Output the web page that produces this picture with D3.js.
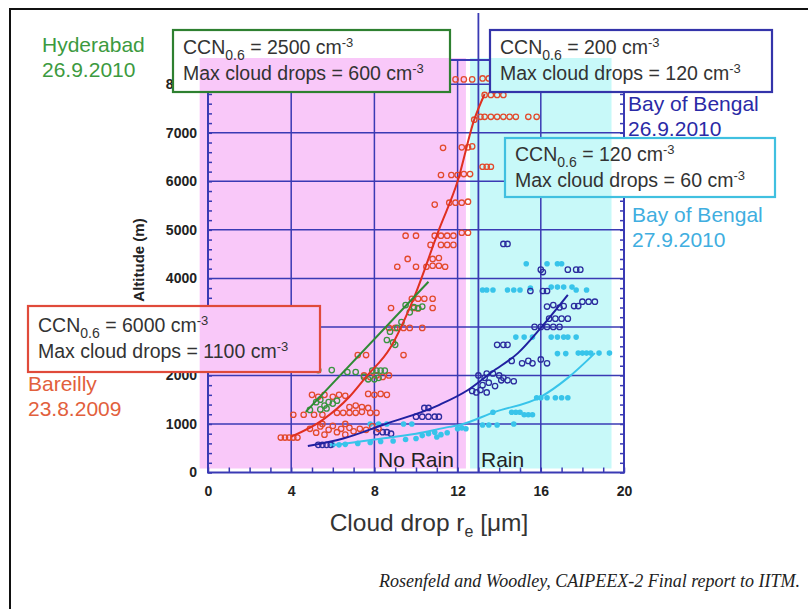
<!DOCTYPE html>
<html><head><meta charset="utf-8">
<script src="https://cdn.jsdelivr.net/npm/d3@7"></script>
<style>body{margin:0;background:#fff}svg{display:block}</style>
</head><body>
<script>
// ---------- DATA ----------
const xTicks = [0, 4, 8, 12, 16, 20];
const yTicks = [0, 1000, 2000, 3000, 4000, 5000, 6000, 7000, 8000];

// Bareilly 23.8.2009 (red open circles) [re µm, altitude m]
const bareilly = [
 [3.5,720],[3.7,720],[3.9,720],[4.1,720],[4.3,720],
 [4.1,1190],[4.6,1190],[5.1,1190],[5.5,1190],
 [4.9,900],[5.2,820],[5.4,950],[5.6,780],[5.8,880],[6.0,960],[6.2,830],[6.4,900],[6.6,780],[6.8,920],[7.0,850],[7.3,900],[7.6,880],[7.9,950],[8.2,900],[5.5,1000],[6.6,1000],
 [6.2,1230],[6.5,1230],[6.8,1230],[7.1,1230],[7.4,1250],[7.8,1230],[8.1,1230],
 [6.8,1350],[7.1,1380],[7.4,1350],[7.7,1330],
 [5.0,1600],[5.3,1560],[5.6,1600],[6.0,1560],[6.3,1600],[6.6,1580],[7.7,1620],[8.0,1600],[8.3,1620],[8.6,1600],
 [7.5,2000],[7.8,1970],[8.1,2000],[8.4,1970],[8.7,2000],
 [7.2,2420],[7.6,2420],[9.4,2420],
 [8.7,2980],[9.0,2980],[9.4,2980],[9.7,2980],[10.3,2980],
 [8.8,3390],[9.9,3390],[10.1,3380],[10.8,3390],
 [9.8,3580],[10.1,3580],[10.4,3580],[10.8,3580],
 [9.1,4240],[10.0,4240],[10.5,4240],[10.8,4260],[11.1,4260],[11.4,4240],
 [9.6,4400],[10.8,4400],[11.1,4420],
 [10.7,4690],[11.2,4690],[11.5,4690],[11.8,4690],
 [9.5,4880],[10.0,4880],[10.9,4880],[11.2,4880],[11.5,4880],[11.8,4880],
 [12.2,4940],[12.5,4940],
 [10.9,5520],[11.6,5560],[11.9,5560],[12.2,5560],[12.5,5580],
 [11.2,6130],[11.7,6130],[12.0,6130],[12.3,6150],[12.6,6150],
 [13.2,6300],[13.4,6300],[13.6,6300],
 [11.3,6690],[12.2,6700],[12.5,6700],[12.7,6720],
 [12.8,7270],[13.1,7330],[13.3,7330],[13.6,7330],[13.9,7330],[14.2,7330],[14.5,7330],[14.8,7330],[15.4,7330],[15.8,7330],
 [13.3,7780],[13.6,7780],[13.9,7780],[14.2,7780],
 [11.9,8100],[12.3,8100],[12.7,8100],[13.2,8120],[13.5,8120]
];
const bareillyFit = [[4.0,738],[5.5,1080],[6.8,1560],[7.6,1970],[8.75,2560],[9.9,3600],[11.1,5000],[12.0,6000],[12.8,7270],[13.3,7800]];

// Hyderabad 26.9.2010 (green open circles)
const hyderabad = [
 [4.9,1290],[5.2,1450],[5.4,1500],[5.6,1380],[5.8,1450],[6.0,1420],[6.2,1480],[5.4,1300],[5.7,1320],
 [5.3,2110],[5.95,2110],[6.7,2070],[7.1,2070],[7.5,1970],[7.9,2100],[8.1,2100],[8.3,2100],[8.5,2100],[7.7,1920],[8.0,1920],[8.2,1950],
 [8.6,2730],[9.0,2630],[8.9,2680],[8.75,2900],[9.1,2980],
 [9.3,3100],[9.5,3450],[9.9,3410],[10.3,3420],[9.7,3300],[10.1,3390]
];
const hyderabadFit = [[4.7,1250],[10.6,3930]];

// Bay of Bengal 26.9.2010 (dark blue open circles)
const bengal26 = [
 [5.3,570],[5.5,570],[5.7,570],[5.9,570],
 [8.1,830],[8.4,830],[8.6,830],[8.8,800],
 [10.0,1150],[10.3,1150],[10.6,1150],[10.9,1150],[11.1,1150],[10.4,1330],[10.6,1330],
 [12.7,1680],[12.9,1650],[13.1,1700],[13.4,1650],
 [13.2,1800],[13.5,1850],[13.8,1780],[14.1,1900],[14.4,1900],[14.7,1880],[13.4,2040],[13.7,2040],[14.0,2000],[14.2,1950],[13.3,1950],[13.0,2000],
 [13.9,2630],[14.2,2630],[14.4,2630],
 [14.6,2300],[15.1,2250],[15.4,2300],[15.6,2250],[16.0,2330],[16.3,2250],
 [15.7,3000],[16.0,3000],[16.3,3000],[16.6,3000],[16.9,3000],
 [16.4,3170],[16.7,3170],[17.0,3170],[17.3,3170],
 [16.3,3420],[16.6,3450],[16.9,3400],[17.1,3430],[17.6,3430],[17.8,3430],
 [18.0,3520],[18.3,3520],[18.6,3520],
 [15.5,3740],[16.1,3740],[16.3,3740],
 [16.0,4180],[16.1,4130],[17.3,4180],[17.7,4180],[17.9,4180],
 [14.2,4710],[14.4,4710]
];
const bengal26Fit = [[4.8,545],[6.5,700],[8.4,980],[11.1,1390],[12.5,1700],[13.65,2070],[14.9,2460],[16.0,2980],[17.3,3660]];

// Bay of Bengal 27.9.2010 (cyan filled dots)
const bengal27 = [
 [6.0,570],[6.3,570],[6.6,580],[7.2,600],[7.8,620],[8.3,640],[8.9,650],[9.5,680],[10.0,700],
 [7.8,1000],[8.2,1000],[8.6,1000],[9.4,1000],[9.8,1000],
 [10.3,760],[10.6,800],[10.9,830],[11.2,780],[11.5,820],[11.0,730],
 [12.0,900],[12.2,920],[12.4,900],
 [13.2,980],[13.5,980],[13.9,980],[14.7,1000],
 [13.7,1240],[14.6,1240],[14.8,1240],[15.0,1240],[15.2,1190],[15.4,1190],[15.6,1190],
 [15.8,1540],[16.0,1540],[16.3,1540],[16.7,1540],[17.0,1540],[17.3,1540],
 [16.8,2450],[17.2,2450],[17.8,2460],[18.0,2460],[18.2,2460],[18.4,2460],[18.8,2460],[19.3,2460],
 [14.8,2790],[15.2,2790],[15.6,2790],[16.5,2790],[16.8,2790],[17.1,2790],[17.3,2790],[17.7,2790],
 [13.2,3760],[13.4,3760],[13.7,3760],[14.4,3760],[14.7,3760],[15.0,3760],[15.5,3800],[16.5,3820],[16.8,3820],[17.1,3820],[17.5,3820],[17.7,3760],[18.2,3760],
 [15.3,4300],[16.3,4300],[16.8,4300],[17.0,4300]
];
const bengal27Fit = [[6.0,560],[8.0,680],[10.0,800],[11.6,940],[12.1,980],[13.8,1250],[16.0,1560],[17.3,1950],[18.6,2460]];

const rainLine = 13.0;              // No Rain / Rain separator (µm)
const noRainRegion = [-0.4, 12.4];  // pink band (µm)
const rainRegion = [12.6, 19.4];    // cyan band (µm)

const boxes = [
 {ccn:"2500", drops:"600"},
 {ccn:"200", drops:"120"},
 {ccn:"120", drops:"60"},
 {ccn:"6000", drops:"1100"}
];
const places = [
 {name:"Hyderabad", date:"26.9.2010"},
 {name:"Bay of Bengal", date:"26.9.2010"},
 {name:"Bay of Bengal", date:"27.9.2010"},
 {name:"Bareilly", date:"23.8.2009"}
];

// ---------- LAYOUT / STYLE ----------
const W = 808, H = 609;
const x = d3.scaleLinear().domain([0, 20]).range([208, 624]);
const y = d3.scaleLinear().domain([0, 8500]).range([472.5, 60]);
const GRID = "#3a3ab4";
const PINK = "#f9c8f9", CYAN = "#c8f9f9";
const C = {red:"#e24a2c", green:"#3a9440", navy:"#2c2c9e", cyan:"#38c4ea"};
const SANS = "'Liberation Sans', Arial, sans-serif";

const svg = d3.select("body").append("svg").attr("width", W).attr("height", H);
svg.append("rect").attr("width", W).attr("height", H).attr("fill", "#fff");
svg.append("path").attr("d", `M10,${H} L10,9 L${W},9`).attr("fill","none").attr("stroke","#111").attr("stroke-width",2);

const pinkRect = {x0: x(noRainRegion[0]), x1: x(noRainRegion[1]), y0: 58, y1: 468.5};
const cyanRect = {x0: x(rainRegion[0]), x1: x(rainRegion[1]), y0: 58, y1: 468.5};
svg.append("rect").attr("x", pinkRect.x0).attr("y", pinkRect.y0).attr("width", pinkRect.x1-pinkRect.x0).attr("height", pinkRect.y1-pinkRect.y0).attr("fill", PINK);
svg.append("rect").attr("x", cyanRect.x0).attr("y", cyanRect.y0).attr("width", cyanRect.x1-cyanRect.x0).attr("height", cyanRect.y1-cyanRect.y0).attr("fill", CYAN);

// grid
const g = svg.append("g");
g.selectAll(".vg").data(xTicks.slice(1,-1)).join("line")
 .attr("x1", d=>x(d)).attr("x2", d=>x(d)).attr("y1", y(8500)).attr("y2", y(0))
 .attr("stroke", GRID).attr("stroke-width", 1.5);
g.selectAll(".hg").data(yTicks.slice(1)).join("line")
 .attr("x1", x(0)).attr("x2", x(20)).attr("y1", d=>y(d)).attr("y2", d=>y(d))
 .attr("stroke", GRID).attr("stroke-width", 1.5);
g.append("line").attr("x1", x(rainLine)).attr("x2", x(rainLine)).attr("y1", 13).attr("y2", y(0))
 .attr("stroke", GRID).attr("stroke-width", 1.8);

// minor ticks (inward)
const minorY = d3.range(0, 8501, 200);
const minorX = d3.range(0, 20.01, 1);
const axL = svg.append("g").attr("transform", `translate(${x(0)},0)`)
 .call(d3.axisLeft(y).tickValues(minorY).tickSize(-4).tickFormat(""));
const axR = svg.append("g").attr("transform", `translate(${x(20)},0)`)
 .call(d3.axisRight(y).tickValues(minorY).tickSize(-4).tickFormat(""));
const axB = svg.append("g").attr("transform", `translate(0,${y(0)})`)
 .call(d3.axisBottom(x).tickValues(minorX).tickSize(-5).tickFormat(""));
[axL, axR, axB].forEach(a => { a.selectAll("line").attr("stroke", GRID).attr("stroke-width", 1.5); a.select(".domain").remove(); });

// tick labels
const axLabY = svg.append("g").attr("transform", `translate(${x(0)},0)`)
 .call(d3.axisLeft(y).tickValues(yTicks).tickSize(0).tickPadding(11).tickFormat(d3.format("d")));
const axLabX = svg.append("g").attr("transform", `translate(0,${y(0)})`)
 .call(d3.axisBottom(x).tickValues(xTicks).tickSize(0).tickPadding(14).tickFormat(d3.format("d")));
[axLabY, axLabX].forEach(a => {
  a.select(".domain").remove();
  a.selectAll("text").attr("font-family", SANS).attr("font-weight", "bold").attr("font-size", 14).attr("fill", "#222");
});

// frame
svg.append("rect").attr("x", x(0)).attr("y", y(8500)).attr("width", x(20)-x(0)).attr("height", y(0)-y(8500))
 .attr("fill","none").attr("stroke", GRID).attr("stroke-width", 2);

// fit lines & points
const line = d3.line().x(d=>x(d[0])).y(d=>y(d[1])).curve(d3.curveMonotoneX);
function fit(data, col){ svg.append("path").attr("d", line(data)).attr("fill","none").attr("stroke", col).attr("stroke-width", 2); }
function pts(data, col, filled){
  svg.append("g").selectAll("circle").data(data).join("circle")
   .attr("cx", d=>x(d[0])).attr("cy", d=>y(d[1])).attr("r", filled?2.8:2.7)
   .attr("fill", filled?col:"none").attr("stroke", filled?"none":col).attr("stroke-width", 1.3);
}
pts(bengal27, C.cyan, true);
pts(bengal26, C.navy, false);
pts(bareilly, C.red, false);
pts(hyderabad, C.green, false);
fit(bengal27Fit, C.cyan);
fit(bengal26Fit, "#2020a0");
fit(bareillyFit, "#e03020");
fit(hyderabadFit, "#2e8a34");

// No Rain / Rain
svg.append("text").attr("x", 378).attr("y", 467).text("No Rain").attr("font-family", SANS).attr("font-size", 21).attr("fill","#222");
svg.append("text").attr("x", 481).attr("y", 467).text("Rain").attr("font-family", SANS).attr("font-size", 21).attr("fill","#222");

// boxes
const boxGeom = [
 {x:173, y:30, w:277, h:62, col:"#2e8030"},
 {x:490, y:30, w:282, h:62, col:"#3434aa"},
 {x:505, y:138, w:270, h:59, col:"#40c0e0"},
 {x:28, y:306, w:292, h:66, col:"#e04a3a"}
];
boxes.forEach((b, i) => {
  const G = boxGeom[i];
  svg.append("rect").attr("x", G.x).attr("y", G.y).attr("width", G.w).attr("height", G.h).attr("fill", "#fff");
  [[pinkRect, PINK],[cyanRect, CYAN]].forEach(([r, c]) => {
    const ix0 = Math.max(G.x, r.x0), ix1 = Math.min(G.x+G.w, r.x1);
    const iy0 = Math.max(G.y, r.y0), iy1 = Math.min(G.y+G.h, r.y1);
    if (ix1 > ix0 && iy1 > iy0)
      svg.append("rect").attr("x", ix0).attr("y", iy0).attr("width", ix1-ix0).attr("height", iy1-iy0).attr("fill", c);
  });
  svg.append("rect").attr("x", G.x).attr("y", G.y).attr("width", G.w).attr("height", G.h)
   .attr("fill", "none").attr("stroke", G.col).attr("stroke-width", 2.2);
  const pad = (G.h - 50) / 2;
  const t1 = svg.append("text").attr("x", G.x+10).attr("y", G.y+pad+18).attr("font-family", SANS).attr("font-size", 19.5).attr("fill", "#333");
  t1.append("tspan").text("CCN");
  t1.append("tspan").text("0.6").attr("font-size", 14).attr("dy", 6);
  t1.append("tspan").text(` = ${b.ccn} cm`).attr("dy", -6);
  t1.append("tspan").text("-3").attr("font-size", 13).attr("dy", -7);
  const t2 = svg.append("text").attr("x", G.x+10).attr("y", G.y+pad+44).attr("font-family", SANS).attr("font-size", 19.5).attr("fill", "#333");
  t2.append("tspan").text(`Max cloud drops = ${b.drops} cm`);
  t2.append("tspan").text("-3").attr("font-size", 13).attr("dy", -7);
});

// place labels
const placeGeom = [
 {x:42, y:52, col:"#3c9a40"},
 {x:628, y:111, col:"#2a2aa6"},
 {x:632, y:222, col:"#40aee0"},
 {x:28, y:391, col:"#e2603c"}
];
places.forEach((p, i) => {
  const G = placeGeom[i];
  svg.append("text").attr("x", G.x).attr("y", G.y).text(p.name).attr("font-family", SANS).attr("font-size", 21).attr("fill", G.col);
  svg.append("text").attr("x", G.x).attr("y", G.y+25).text(p.date).attr("font-family", SANS).attr("font-size", 21).attr("fill", G.col);
});

// axis titles
svg.append("text").attr("transform", "translate(144,260) rotate(-90)").attr("text-anchor","middle")
 .text("Altitude (m)").attr("font-family", SANS).attr("font-weight","bold").attr("font-size", 15).attr("fill","#222");
const xt = svg.append("text").attr("x", 429).attr("y", 531).attr("text-anchor","middle")
 .attr("font-family", SANS).attr("font-size", 24.5).attr("fill","#333");
xt.append("tspan").text("Cloud drop r");
xt.append("tspan").text("e").attr("font-size", 16).attr("dy", 6);
xt.append("tspan").text(" [μm]").attr("dy", -6);

// caption
svg.append("text").attr("x", 800).attr("y", 587).attr("text-anchor","end")
 .text("Rosenfeld and Woodley, CAIPEEX-2 Final report to IITM.")
 .attr("font-family", "'Liberation Serif', 'Times New Roman', serif").attr("font-style","italic").attr("font-size", 18).attr("fill","#222");
</script>
</body></html>
